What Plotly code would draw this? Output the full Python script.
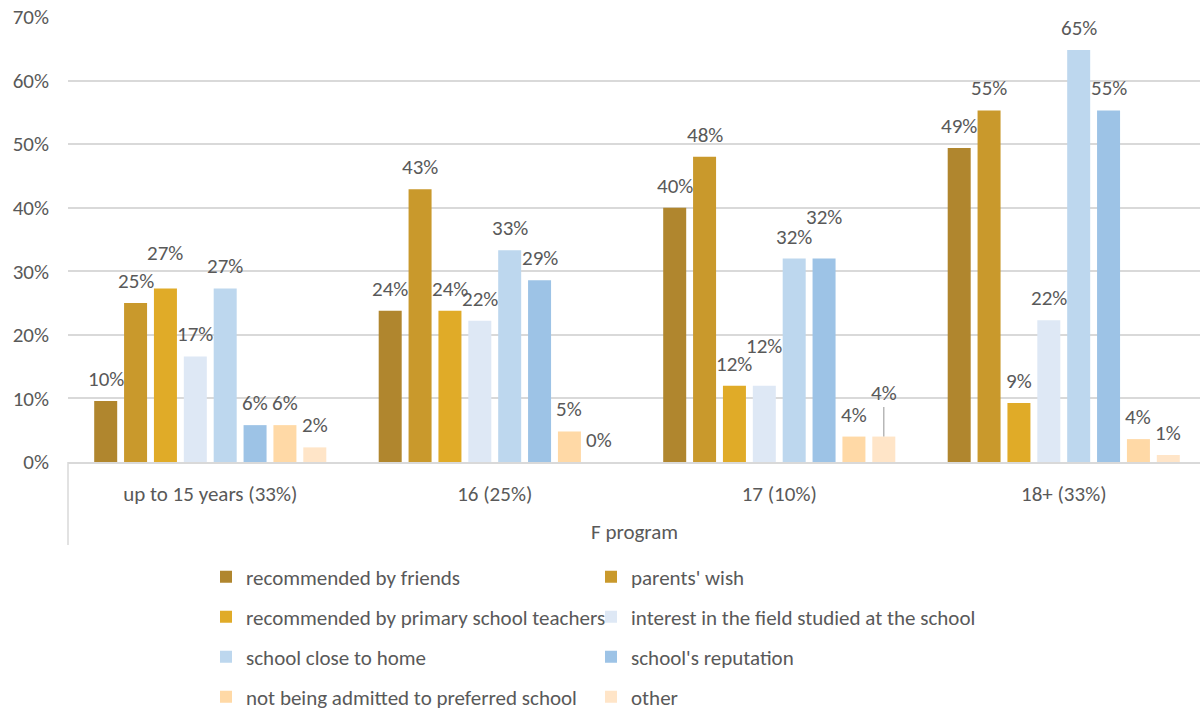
import plotly.graph_objects as go

# Age groups on the category axis
categories = ["up to 15 years (33%)", "16 (25%)", "17 (10%)", "18+ (33%)"]
group_title = "F program"

# Share of respondents (%) naming each reason, per age group
series_names = [
    "recommended by friends",
    "parents' wish",
    "recommended by primary school teachers",
    "interest in the field studied at the school",
    "school close to home",
    "school's reputation",
    "not being admitted to preferred school",
    "other",
]
recommended_by_friends = [9.6, 23.8, 40.0, 49.4]
parents_wish = [25.0, 42.9, 48.0, 55.3]
recommended_by_teachers = [27.3, 23.8, 12.0, 9.3]
interest_in_field = [16.6, 22.2, 12.0, 22.3]
school_close_to_home = [27.3, 33.3, 32.0, 64.8]
school_reputation = [5.8, 28.6, 32.0, 55.3]
not_admitted_elsewhere = [5.8, 4.8, 4.0, 3.6]
other_reason = [2.3, 0.0, 4.0, 1.1]

series_values = [
    recommended_by_friends,
    parents_wish,
    recommended_by_teachers,
    interest_in_field,
    school_close_to_home,
    school_reputation,
    not_admitted_elsewhere,
    other_reason,
]

colors = ["#B0862E", "#C9992C", "#E0AB28", "#DEE8F5",
          "#BDD7EE", "#9DC3E6", "#FFD9A6", "#FFE5C8"]

FONT = "Calibri, Carlito, Lato, sans-serif"
TEXT = "#595959"
GRID = "#D9D9D9"
FS = 21

W, H = 1200, 713
ML, MR, MT, MB = 68, 0, 17, 251
PW, PH = W - ML - MR, H - MT - MB

BARGAP = 0.16
slot = (1 - BARGAP) / len(series_names)

# labels lifted above their default spot to keep them clear of neighbours
label_lift = {(2, 0): 13, (3, 2): 18, (5, 2): 20}
leader_labels = {(7, 2): 44}

# two legend entries per row, four rows
legend_names = ["legend", "legend2", "legend3", "legend4"]
row_centers_px = [577, 617, 657, 697]


def paper_y(py):
    return (H - MB - py) / PH


def paper_x(px):
    return (px - ML) / PW


fig = go.Figure()
for i, (name, vals) in enumerate(zip(series_names, series_values)):
    fig.add_trace(go.Bar(
        name=name, x=categories, y=vals,
        marker=dict(color=colors[i], line=dict(width=0)),
        legend=legend_names[i // 2],
        hovertemplate="%{x}<br>" + name + ": %{y:.1f}%<extra></extra>",
    ))

annotations = []
for i, vals in enumerate(series_values):
    for g, v in enumerate(vals):
        xpos = g + (i - (len(series_names) - 1) / 2) * slot
        label = f"{v:.0f}%"
        if (i, g) in leader_labels:
            annotations.append(dict(
                x=xpos, y=v, xref="x", yref="y", text=label,
                showarrow=True, arrowhead=0, arrowwidth=1.2,
                arrowcolor="#A6A6A6", ax=0, ay=-leader_labels[(i, g)],
                standoff=0, font=dict(family=FONT, size=FS, color=TEXT)))
        else:
            annotations.append(dict(
                x=xpos, y=v, xref="x", yref="y", text=label,
                showarrow=False, yanchor="middle",
                yshift=22 + label_lift.get((i, g), 0),
                font=dict(family=FONT, size=FS, color=TEXT)))

annotations.append(dict(
    x=0.5, y=paper_y(532), xref="paper", yref="paper", text=group_title,
    showarrow=False, xanchor="center", yanchor="middle",
    font=dict(family=FONT, size=FS, color=TEXT)))

legend_cfg = {}
for r, lname in enumerate(legend_names):
    legend_cfg[lname] = dict(
        orientation="h", x=paper_x(206), xanchor="left",
        y=paper_y(row_centers_px[r]), yanchor="middle",
        entrywidth=340, entrywidthmode="pixels",
        font=dict(family=FONT, size=FS, color=TEXT),
        bgcolor="rgba(0,0,0,0)", traceorder="normal",
    )

fig.update_layout(
    width=W, height=H,
    margin=dict(l=ML, r=MR, t=MT, b=MB, pad=0, autoexpand=False),
    paper_bgcolor="white", plot_bgcolor="white",
    barmode="group", bargap=BARGAP, bargroupgap=0.23,
    font=dict(family=FONT, size=FS, color=TEXT),
    showlegend=True,
    annotations=annotations,
    shapes=[dict(type="line", xref="paper", yref="paper",
                 x0=0, x1=0, y0=0, y1=paper_y(545),
                 line=dict(color=GRID, width=1.5))],
    **legend_cfg,
)
fig.update_xaxes(
    type="category", range=[-0.5, -0.5 + PW / 284.5],
    showline=True, linecolor=GRID, linewidth=1.5,
    ticks="", showgrid=False, ticklabelstandoff=12,
    tickfont=dict(family=FONT, size=FS, color=TEXT),
)
fig.update_yaxes(
    range=[0, 70], dtick=10, ticksuffix="%",
    showgrid=True, gridcolor=GRID, gridwidth=1.5,
    zeroline=False, showline=False, ticks="", ticklabelstandoff=18,
    tickfont=dict(family=FONT, size=FS, color=TEXT),
)

fig.write_html("out.html")
